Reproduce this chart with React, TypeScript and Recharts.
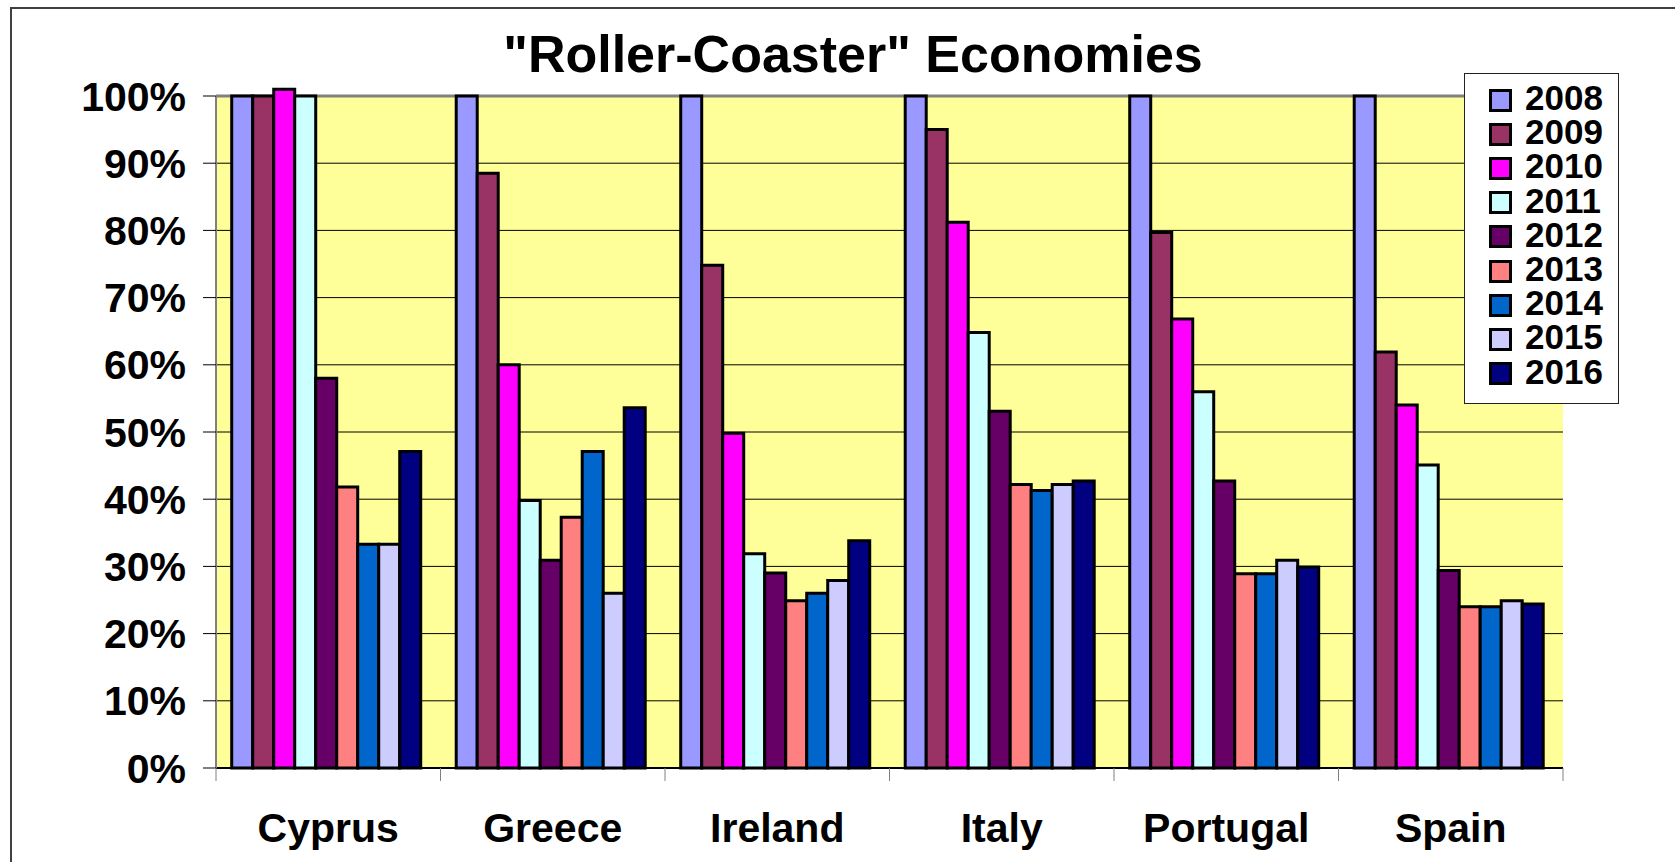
import React from "react";
import {
  BarChart,
  Bar,
  XAxis,
  YAxis,
  CartesianGrid,
  Legend,
} from "recharts";

const font = '"Liberation Sans", Arial, Helvetica, sans-serif';

export const countries = ["Cyprus", "Greece", "Ireland", "Italy", "Portugal", "Spain"];
export const years = ["2008", "2009", "2010", "2011", "2012", "2013", "2014", "2015", "2016"];

// share of the 2008 level, in percent, per country (same order as countries)
const v2008 = [100, 100, 100, 100, 100, 100];
const v2009 = [100, 88.5, 74.8, 95.0, 79.7, 61.9];
const v2010 = [101, 60.0, 49.8, 81.2, 66.8, 54.0];
const v2011 = [100, 39.8, 31.9, 64.8, 56.0, 45.1];
const v2012 = [58.0, 30.9, 29.0, 53.1, 42.7, 29.4];
const v2013 = [41.8, 37.3, 24.9, 42.2, 28.9, 24.0];
const v2014 = [33.3, 47.1, 26.0, 41.3, 28.9, 24.0];
const v2015 = [33.3, 26.0, 27.9, 42.2, 30.9, 24.9];
const v2016 = [47.1, 53.6, 33.8, 42.7, 29.9, 24.4];

const yearValues = [v2008, v2009, v2010, v2011, v2012, v2013, v2014, v2015, v2016];

export const colors = [
  "#9999FF", // 2008
  "#993366", // 2009
  "#FF00FF", // 2010
  "#CCFFFF", // 2011
  "#660066", // 2012
  "#FF8080", // 2013
  "#0066CC", // 2014
  "#CCCCFF", // 2015
  "#000080", // 2016
];

const yTicks = [0, 10, 20, 30, 40, 50, 60, 70, 80, 90, 100];

const data = countries.map((name, i) => {
  const row: any = { name };
  years.forEach((y, k) => {
    row[y] = yearValues[k][i];
  });
  return row;
});

const LABEL_GAP = 45;
const EDGE_TICK = 13;

// category label at the centre, tick marks on the category boundaries (Excel style)
const CategoryTick = (props: any) => {
  const { x, y, payload, index, visibleTicksCount } = props;
  const half = payload?.offset ?? 0;
  const axisY = y - LABEL_GAP;
  return (
    <g>
      <line x1={x - half} x2={x - half} y1={axisY} y2={axisY + EDGE_TICK} stroke="#808080" />
      {index === visibleTicksCount - 1 && (
        <line x1={x + half} x2={x + half} y1={axisY} y2={axisY + EDGE_TICK} stroke="#808080" />
      )}
      <text
        x={x}
        y={y}
        dy="0.71em"
        textAnchor="middle"
        fill="#000"
        fontSize={41}
        fontWeight={700}
        fontFamily={font}
      >
        {payload.value}
      </text>
    </g>
  );
};

const renderLegend = (props: any) => {
  const payload = props.payload || [];
  return (
    <div
      style={{
        boxSizing: "border-box",
        width: 155,
        height: 331,
        background: "#fff",
        border: "1px solid #222",
        paddingTop: 7,
        paddingLeft: 24,
      }}
    >
      {payload.map((entry: any) => (
        <div
          key={entry.value}
          style={{ display: "flex", alignItems: "center", height: 34.2 }}
        >
          <span
            style={{
              display: "block",
              boxSizing: "border-box",
              width: 23,
              height: 23,
              border: "3px solid #000",
              background: entry.color ?? entry.payload?.fill,
              marginRight: 13,
              position: "relative",
              top: 2,
            }}
          />
          <span
            style={{
              display: "block",
              height: 34,
              overflow: "visible",
              fontFamily: font,
              fontSize: 35,
              fontWeight: 700,
              lineHeight: "34px",
              color: "#000",
            }}
          >
            {entry.value}
          </span>
        </div>
      ))}
    </div>
  );
};

export default function App() {
  return (
    <div
      style={{
        position: "absolute",
        left: 0,
        top: 0,
        width: 1675,
        height: 862,
        overflow: "hidden",
        background: "#fff",
      }}
    >
      <style>{`.recharts-bar, .recharts-bar-rectangles { clip-path: none !important; }`}</style>
      <div
        style={{
          position: "absolute",
          left: 10,
          top: 7,
          width: 2000,
          height: 2000,
          border: "2px solid #404040",
        }}
      />
      <div
        style={{
          position: "absolute",
          left: 853,
          top: 28,
          transform: "translateX(-50%)",
          whiteSpace: "nowrap",
          fontFamily: font,
          fontSize: 52,
          fontWeight: 700,
          lineHeight: "52px",
          color: "#000",
        }}
      >
        "Roller-Coaster" Economies
      </div>
      <div style={{ position: "absolute", left: 0, top: 0 }}>
        <BarChart
          width={1675}
          height={862}
          data={data}
          margin={{ top: 96, right: 112, bottom: 14, left: 66 }}
          barCategoryGap="7%"
          barGap={0}
        >
          <CartesianGrid
            xAxisId="cat"
            yAxisId="left"
            vertical={false}
            horizontalValues={[0, 10, 20, 30, 40, 50, 60, 70, 80, 90]}
            stroke="#000"
            fill="#FFFF99"
            fillOpacity={1}
          />
          <CartesianGrid
            xAxisId="cat"
            yAxisId="left"
            vertical={false}
            horizontalValues={[100]}
            stroke="#808080"
            strokeWidth={3}
            fill="none"
          />
          <XAxis
            xAxisId="cat"
            dataKey="name"
            height={80}
            interval={0}
            axisLine={{ stroke: "#000", strokeWidth: 2 }}
            tickLine={false}
            tickSize={0}
            tickMargin={LABEL_GAP}
            tick={<CategoryTick />}
          />
          <YAxis
            yAxisId="left"
            width={150}
            domain={[0, 100]}
            allowDataOverflow
            ticks={yTicks}
            interval={0}
            tickFormatter={(v) => `${v}%`}
            tickSize={13}
            tickMargin={17}
            tickLine={{ stroke: "#000" }}
            axisLine={{ stroke: "#808080", strokeWidth: 2 }}
            tick={{ fill: "#000", fontSize: 41, fontWeight: 700, fontFamily: font }}
          />
          <YAxis
            yAxisId="right"
            orientation="right"
            width={0}
            domain={[0, 100]}
            allowDataOverflow
            tick={false}
            tickLine={false}
            axisLine={{ stroke: "#808080", strokeWidth: 3 }}
          />
          <Legend
            content={renderLegend}
            layout="vertical"
            align="center"
            verticalAlign="middle"
            wrapperStyle={{ left: 1464, top: 73, width: 155, height: 331 }}
          />
          {years.map((y, k) => (
            <Bar
              key={y}
              xAxisId="cat"
              yAxisId="left"
              dataKey={y}
              name={y}
              fill={colors[k]}
              stroke="#000"
              strokeWidth={3}
              isAnimationActive={false}
            />
          ))}
        </BarChart>
      </div>
    </div>
  );
}
